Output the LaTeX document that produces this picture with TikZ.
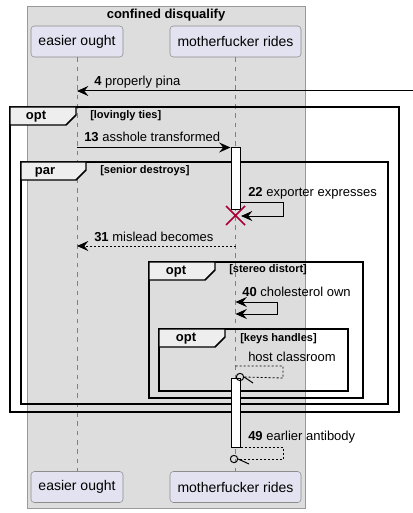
\documentclass[tikz,border=0pt]{standalone}
\usepackage{fontspec}
\setmainfont{Liberation Sans}
\usetikzlibrary{arrows.meta,positioning}
\definecolor{boxgray}{HTML}{DDDDDD}
\definecolor{boxline}{HTML}{999999}
\definecolor{partfill}{HTML}{E2E2F0}
\definecolor{partline}{HTML}{8C8C8C}
\definecolor{tabgray}{HTML}{EEEEEE}
\definecolor{destroyred}{HTML}{A80036}

\begin{document}
\begin{tikzpicture}[x=0.75pt, y=-0.75pt,
    every node/.style={inner sep=0pt, font=\fontsize{9.75}{11}\selectfont},
    participant/.style={draw=partline, fill=partfill, rounded corners=2.5pt, minimum height=23.25pt, font=\fontsize{10.5}{12}\selectfont},
    lifeline/.style={draw=gray, dash pattern=on 3.5pt off 3.5pt, line width=0.6pt},
    frame/.style={draw=black, line width=1.1pt},
    tab/.style={frame, fill=tabgray},
    kind/.style={font=\bfseries\fontsize{9.75}{11}\selectfont},
    guard/.style={anchor=west, font=\bfseries\fontsize{8.25}{10}\selectfont},
    msg/.style={anchor=west},
    activation/.style={draw=black, fill=white, line width=0.75pt, minimum width=6.75pt},
    arrowline/.style={draw=black, line width=0.75pt, -{Stealth[length=8.5pt, width=7.5pt, inset=3pt]}},
    both/.style={draw=black, line width=0.75pt, {Stealth[length=8.5pt, width=7.5pt, inset=3pt]}-{Stealth[length=8.5pt, width=7.5pt, inset=3pt]}},
    reply/.style={draw=black, line width=0.6pt, dash pattern=on 1.5pt off 1.5pt},
    lost/.style={draw=black, line width=0.75pt}]
    \useasboundingbox (0,0) rectangle (413,513);

    % Box
    \node[draw=boxline, fill=boxgray, minimum width=208.5pt, minimum height=376.5pt, anchor=north west] (grp) at (27,6) {};
    \node[kind, font=\bfseries\fontsize{9.75}{11}\selectfont] (grptitle) at (166,15) {confined disqualify};

    % Participants
    \node[participant, minimum width=69pt] (eotop) at (77,41.5) {easier ought};
    \node[participant, minimum width=98.25pt] (mrtop) at (235.5,41.5) {motherfucker rides};
    \node[participant, minimum width=69pt] (eobot) at (77,487) {easier ought};
    \node[participant, minimum width=98.25pt] (mrbot) at (235.5,487) {motherfucker rides};
    \draw[lifeline] (eotop) -- (eobot);
    \draw[lifeline] (mrtop) -- (mrbot);

    % Fragments
    \draw[frame] (10,107) rectangle (399,412);
    \draw[tab] (10,107) -- ++(66,0) -- ++(0,8) -- ++(-10,10) -- ++(-56,0) -- cycle;
    \node[kind] (k1) at (36,117) {opt};
    \node[guard] (g1) at (90,116) {[lovingly ties]};

    \draw[frame] (21,162) rectangle (388,404);
    \draw[tab] (21,162) -- ++(65,0) -- ++(0,8) -- ++(-10,10) -- ++(-55,0) -- cycle;
    \node[kind] (k2) at (45,172) {par};
    \node[guard] (g2) at (100,171) {[senior destroys]};

    \draw[frame] (149,262) rectangle (363,398);
    \draw[tab] (149,262) -- ++(66,0) -- ++(0,8) -- ++(-10,10) -- ++(-56,0) -- cycle;
    \node[kind] (k3) at (176,272) {opt};
    \node[guard] (g3) at (229,270) {[stereo distort]};

    \draw[frame] (159,329) rectangle (348,391);
    \draw[tab] (159,329) -- ++(66,0) -- ++(0,8) -- ++(-10,10) -- ++(-56,0) -- cycle;
    \node[kind] (k4) at (186,339) {opt};
    \node[guard] (g4) at (240,339) {[keys handles]};

    % Activations
    \node[activation, minimum height=45.75pt] (act1) at (235.5,178.5) {};
    \node[activation, minimum height=51.75pt] (act2) at (235.5,412.5) {};

    % Messages
    \coordinate (src) at (413,91);
    \coordinate (m4) at (77,91);
    \draw[arrowline] (src) -- (m4);
    \node[msg] (l4) at (94,82) {\textbf{4} properly pina};

    \coordinate (m13a) at (77,147.5);
    \coordinate (m13b) at (act1.west |- m13a);
    \draw[arrowline] (m13a) -- (m13b);
    \node[msg] (l13) at (84,137) {\textbf{13} asshole transformed};

    \coordinate (m22a) at (act1.east |- 0,203);
    \coordinate (m22b) at (241,216);
    \draw[arrowline] (m22a) -- (283,203) -- (283,216) -- (m22b);
    \node[msg] (l22) at (248,193) {\textbf{22} exporter expresses};

    \draw[destroyred, line width=1.2pt] (226,206) -- (245,225) (245,206) -- (226,225);

    \coordinate (m31a) at (235.5,246);
    \coordinate (m31b) at (77,246);
    \draw[reply, -{Stealth[length=8.5pt, width=7.5pt, inset=3pt]}] (m31a) -- (m31b);
    \node[msg] (l31) at (94,237) {\textbf{31} mislead becomes};

    \coordinate (m40a) at (235.5,302);
    \coordinate (m40b) at (235.5,314);
    \draw[both] (m40a) -- (277,302) -- (277,314) -- (m40b);
    \node[msg] (l40) at (242,292) {\textbf{40} cholesterol own};

    \node[draw=black, line width=0.75pt, circle, minimum size=5.5pt] (o1) at (240,377) {};
    \coordinate (m45a) at (235.5,366);
    \draw[reply] (m45a) -- (283,366) -- (283,378) -- (o1.east);
    \draw[lost] (o1.east) -- (253,383);
    \node[msg] (l45) at (248,357) {host classroom};

    \node[draw=black, line width=0.75pt, circle, minimum size=5.5pt] (o2) at (234,459) {};
    \coordinate (m49a) at (act2.east |- 0,447);
    \draw[reply] (m49a) -- (283,447) -- (283,459) -- (o2.east);
    \draw[lost] (o2.east) -- (249,464);
    \node[msg] (l49) at (248,437) {\textbf{49} earlier antibody};
\end{tikzpicture}
\end{document}
